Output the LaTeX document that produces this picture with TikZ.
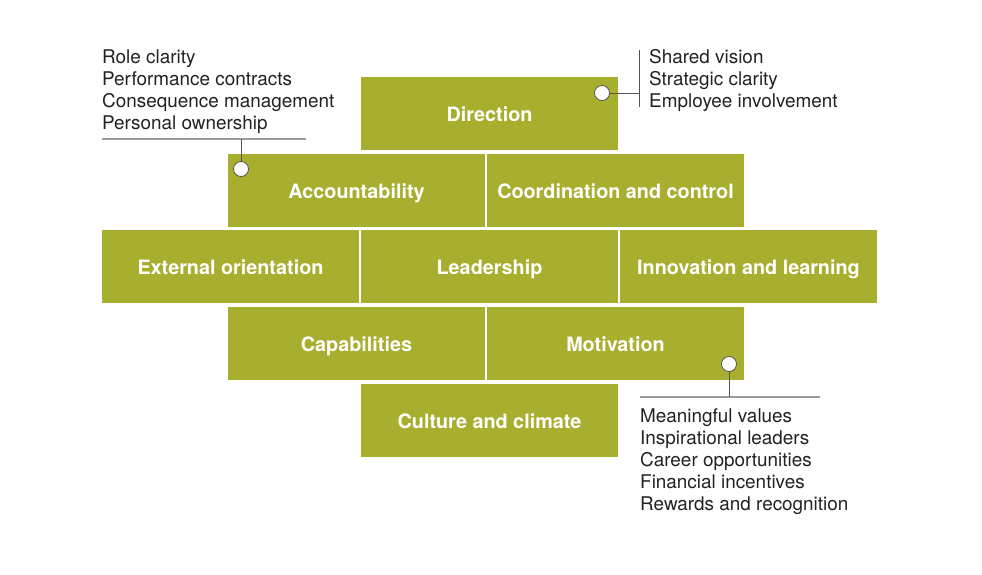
\documentclass[tikz,border=0pt]{standalone}
\usepackage{fontspec}
\setmainfont{TeX Gyre Heros}
\definecolor{olive}{HTML}{A8AF2E}
\definecolor{rulegray}{HTML}{9A9A9A}
\definecolor{stemgray}{HTML}{555555}
\definecolor{txt}{HTML}{222222}
\begin{document}
\begin{tikzpicture}[x=1pt,y=-1pt,
  blk/.style={fill=olive,draw=none,minimum width=257pt,minimum height=73pt,inner sep=0pt,
    text height=15pt,text depth=0pt,
    text=white,font=\bfseries\fontsize{19.8}{22}\selectfont},
  item/.style={anchor=base west,inner sep=0pt,text=txt,font=\fontsize{18.9}{22}\selectfont},
  dot/.style={circle,draw=stemgray,fill=white,line width=0.8pt,minimum size=15pt,inner sep=0pt},
  stem/.style={draw=stemgray,line width=0.8pt},
  hrule/.style={draw=rulegray,line width=1.6pt}]
\useasboundingbox (0,0) rectangle (982,574);
\fill[white] (0,0) rectangle (982,574);
% boxes
\node[blk] (dir) at (489.5,113.5) {Direction};
\node[blk] (acc) at (356.5,190.5) {Accountability};
\node[blk] (coo) at (615.5,190.5) {Coordination and control};
\node[blk] (ext) at (230.5,266.5) {External orientation};
\node[blk] (lea) at (489.5,266.5) {Leadership};
\node[blk] (inn) at (748.5,266.5) {Innovation and learning};
\node[blk] (cap) at (356.5,343.5) {Capabilities};
\node[blk] (mot) at (615.5,343.5) {Motivation};
\node[blk] (cul) at (489.5,420.5) {Culture and climate};
% left callout (Accountability)
\node[item] (l1) at (102,63) {Role clarity};
\node[item] (l2) at (102,85) {Performance contracts};
\node[item] (l3) at (102,107) {Consequence management};
\node[item] (l4) at (102,129) {Personal ownership};
\coordinate (lrA) at (102,139);
\coordinate (lrB) at (306,139);
\coordinate (lrS) at (241,139);
\draw[hrule] (lrA) -- (lrB);
\node[dot] (dacc) at (241,169) {};
\draw[stem] (lrS) -- (dacc.north);
% top right callout (Direction)
\node[item] (r1) at (649,63) {Shared vision};
\node[item] (r2) at (649,85) {Strategic clarity};
\node[item] (r3) at (649,107) {Employee involvement};
\node[dot] (ddir) at (602,93) {};
\coordinate (rvT) at (639,50);
\coordinate (rvB) at (639,107);
\coordinate (rvM) at (639,93);
\draw[stem] (rvT) -- (rvB);
\draw[stem] (ddir.east) -- (rvM);
% bottom right callout (Motivation)
\node[dot] (dmot) at (729,364) {};
\coordinate (brA) at (640,397);
\coordinate (brB) at (820,397);
\coordinate (brS) at (729,397);
\draw[hrule] (brA) -- (brB);
\draw[stem] (dmot.south) -- (brS);
\node[item] (m1) at (640,422) {Meaningful values};
\node[item] (m2) at (640,444) {Inspirational leaders};
\node[item] (m3) at (640,466) {Career opportunities};
\node[item] (m4) at (640,488) {Financial incentives};
\node[item] (m5) at (640,510) {Rewards and recognition};
\end{tikzpicture}
\end{document}
